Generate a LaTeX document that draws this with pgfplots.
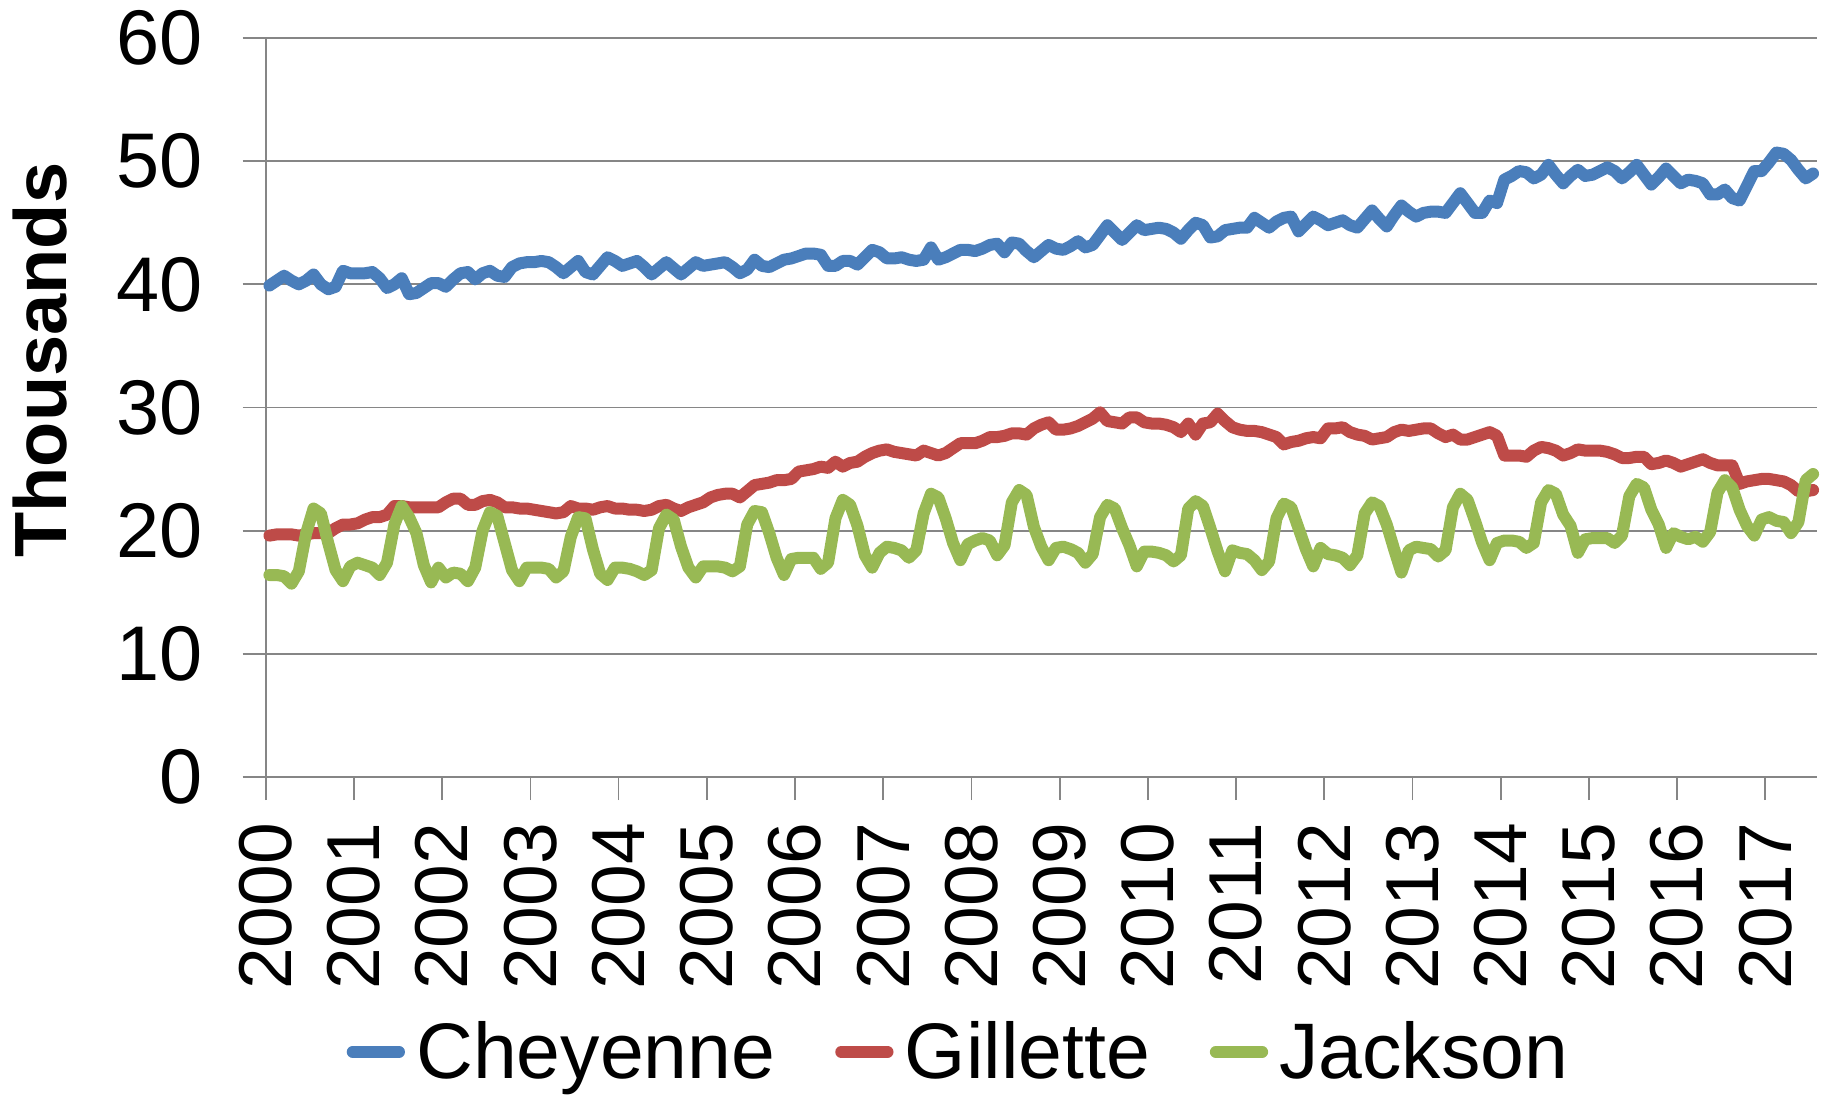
\documentclass[border=0pt]{standalone}
\usepackage{pgfplots}
\pgfplotsset{compat=1.18}
\usepackage{pgfplotstable}
\usepackage{fontspec}
\setmainfont{Liberation Sans}
\definecolor{cblue}{HTML}{4A7EBB}
\definecolor{cred}{HTML}{BE4B48}
\definecolor{cgreen}{HTML}{98B954}
\definecolor{gridc}{HTML}{868686}
% monthly values, Jan 2000 - Jul 2017 (thousands)
\pgfplotstableread{
c g j
39.9 19.6 16.4
40.3 19.7 16.4
40.7 19.7 16.3
40.3 19.7 15.7
40.0 19.6 16.7
40.3 19.7 19.8
40.8 19.8 21.8
40.0 19.8 21.4
39.6 19.8 19.0
39.8 20.2 16.8
41.1 20.5 15.9
40.9 20.5 17.1
40.9 20.6 17.4
40.9 20.9 17.2
41.0 21.1 17.0
40.5 21.1 16.4
39.7 21.3 17.4
40.0 22.0 20.5
40.5 22.0 22.0
39.2 21.9 21.1
39.3 21.9 19.8
39.7 21.9 17.2
40.1 21.9 15.8
40.1 21.9 17.0
39.8 22.3 16.2
40.4 22.6 16.6
40.9 22.6 16.5
41.0 22.1 15.9
40.4 22.1 17.0
40.9 22.4 20.0
41.1 22.5 21.5
40.7 22.3 21.2
40.6 21.9 19.0
41.4 21.9 16.8
41.7 21.8 15.9
41.8 21.8 17.0
41.8 21.7 17.0
41.9 21.6 17.0
41.8 21.5 16.9
41.4 21.4 16.2
40.9 21.5 16.7
41.4 22.0 19.5
41.9 21.8 21.1
41.0 21.8 21.0
40.8 21.7 18.5
41.5 21.9 16.5
42.2 22.0 16.0
41.9 21.8 17.0
41.5 21.8 17.0
41.7 21.7 16.9
41.9 21.7 16.7
41.4 21.6 16.4
40.8 21.7 16.8
41.3 22.0 20.2
41.8 22.1 21.3
41.3 21.8 20.9
40.8 21.6 18.7
41.3 21.9 17.0
41.8 22.1 16.2
41.5 22.3 17.1
41.6 22.7 17.1
41.7 22.9 17.1
41.8 23.0 17.0
41.4 23.0 16.7
40.9 22.7 17.1
41.2 23.2 20.5
42.0 23.7 21.6
41.5 23.8 21.5
41.4 23.9 19.8
41.7 24.1 17.8
42.0 24.1 16.4
42.1 24.2 17.7
42.3 24.8 17.8
42.5 24.9 17.8
42.5 25.0 17.8
42.4 25.2 16.9
41.5 25.1 17.4
41.5 25.6 21.0
41.9 25.2 22.5
41.9 25.5 22.1
41.6 25.6 20.4
42.2 26.0 18.0
42.8 26.3 17.0
42.6 26.5 18.2
42.1 26.6 18.7
42.1 26.4 18.6
42.2 26.3 18.4
42.0 26.2 17.8
41.9 26.1 18.4
42.0 26.5 21.4
43.0 26.3 23.0
42.0 26.1 22.7
42.2 26.3 21.0
42.5 26.7 19.0
42.8 27.1 17.6
42.8 27.1 18.9
42.7 27.1 19.2
42.9 27.3 19.4
43.2 27.6 19.2
43.3 27.6 18.0
42.6 27.7 18.8
43.4 27.9 22.3
43.3 27.9 23.3
42.7 27.8 22.9
42.2 28.3 20.3
42.7 28.6 18.7
43.2 28.8 17.6
42.9 28.2 18.6
42.8 28.2 18.7
43.1 28.3 18.5
43.5 28.5 18.2
43.0 28.8 17.4
43.2 29.1 18.1
44.0 29.6 21.1
44.8 28.9 22.1
44.2 28.8 21.8
43.6 28.7 20.2
44.2 29.2 18.8
44.8 29.2 17.1
44.4 28.8 18.3
44.5 28.7 18.3
44.6 28.7 18.2
44.5 28.6 18.0
44.2 28.4 17.5
43.7 28.0 18.0
44.4 28.7 21.8
45.0 27.8 22.4
44.8 28.7 22.0
43.8 28.8 20.2
43.9 29.5 18.3
44.4 28.9 16.7
44.5 28.4 18.4
44.6 28.2 18.2
44.6 28.1 18.1
45.4 28.1 17.6
45.0 28.0 16.8
44.6 27.8 17.5
45.1 27.6 21.0
45.4 27.0 22.2
45.5 27.2 21.9
44.3 27.3 20.2
44.9 27.5 18.5
45.5 27.6 17.1
45.2 27.5 18.6
44.8 28.3 18.1
45.0 28.3 18.0
45.2 28.4 17.8
44.8 28.0 17.2
44.6 27.8 18.0
45.3 27.7 21.4
46.0 27.4 22.3
45.3 27.5 22.0
44.7 27.6 20.5
45.6 28.0 18.5
46.4 28.2 16.6
45.9 28.1 18.4
45.5 28.2 18.7
45.8 28.3 18.6
45.9 28.3 18.5
45.9 27.9 17.9
45.8 27.6 18.4
46.6 27.8 21.9
47.4 27.4 23.0
46.6 27.4 22.5
45.8 27.6 20.8
45.8 27.8 19.0
46.8 28.0 17.6
46.6 27.7 19.0
48.5 26.1 19.2
48.8 26.1 19.2
49.2 26.1 19.1
49.1 26.0 18.6
48.6 26.5 19.0
48.9 26.8 22.3
49.7 26.7 23.3
48.9 26.5 23.0
48.2 26.1 21.3
48.8 26.3 20.4
49.3 26.6 18.2
48.8 26.5 19.3
48.9 26.5 19.4
49.2 26.5 19.4
49.5 26.4 19.4
49.2 26.2 19.0
48.6 25.9 19.6
49.1 25.9 22.8
49.7 26.0 23.8
48.9 26.0 23.5
48.1 25.4 21.7
48.7 25.5 20.5
49.4 25.7 18.6
48.8 25.5 19.8
48.2 25.2 19.5
48.5 25.4 19.3
48.4 25.6 19.5
48.2 25.8 19.1
47.3 25.5 19.9
47.3 25.3 23.1
47.7 25.3 24.1
47.0 25.3 23.5
46.8 23.8 21.7
48.0 24.0 20.4
49.2 24.1 19.6
49.2 24.2 20.9
49.9 24.2 21.1
50.7 24.1 20.8
50.6 24.0 20.7
50.1 23.7 19.8
49.3 23.2 20.7
48.6 23.2 24.1
49.0 23.3 24.6
}\wydata
\begin{document}
\begin{tikzpicture}
\path[use as bounding box] (0,0) rectangle (732.4pt,440pt);
\begin{axis}[
  at={(106.3pt,129.2pt)}, anchor=south west,
  scale only axis, width=620.4pt, height=295.6pt,
  xmin=0, xmax=211, ymin=0, ymax=60,
  axis lines*=left,
  axis line style={gridc, line width=0.7pt, -},
  tick align=outside,
  major tick length=9.2pt,
  tick style={gridc, line width=0.7pt},
  xtick={0,12,24,36,48,60,72,84,96,108,120,132,144,156,168,180,192,204},
  xticklabels={2000,2001,2002,2003,2004,2005,2006,2007,2008,2009,2010,2011,2012,2013,2014,2015,2016,2017},
  ytick={0,10,20,30,40,50,60},
  ymajorgrids,
  grid style={gridc, line width=0.7pt},
  x tick label style={rotate=90, anchor=east, inner sep=0pt, font=\fontsize{30}{30}\selectfont},
  y tick label style={anchor=east, inner sep=0pt, font=\fontsize{31}{31}\selectfont},
  xticklabel shift=9pt, yticklabel shift=15.7pt,
  /pgf/number format/assume math mode=true,
  ylabel={Thousands},
  ylabel style={at={(axis description cs:-0.1456,0.564)}, anchor=center, inner sep=0pt, font=\bfseries\fontsize{29.6}{29.6}\selectfont},
  clip=false,
  legend columns=3,
  legend style={at={(0.4460,-0.372)}, anchor=center, draw=none, fill=none,
    font=\fontsize{31.5}{31.5}\selectfont, inner sep=0pt,
    nodes={inner sep=0pt},
    /tikz/every odd column/.append style={column sep=4.5pt},
    /tikz/every even column/.append style={column sep=24pt}},
  legend image code/.code={\draw[#1, line width=4.8pt, line cap=round] (2.4pt,0pt) -- (20.9pt,0pt);},
]
\addplot[cblue, line width=4.8pt, line join=round, line cap=round] table[x expr=\coordindex+0.5, y=c] {\wydata};
\addlegendentry{Cheyenne}
\addplot[cred, line width=4.8pt, line join=round, line cap=round] table[x expr=\coordindex+0.5, y=g] {\wydata};
\addlegendentry{Gillette}
\addplot[cgreen, line width=4.8pt, line join=round, line cap=round] table[x expr=\coordindex+0.5, y=j] {\wydata};
\addlegendentry{Jackson}
\end{axis}
\end{tikzpicture}
\end{document}
